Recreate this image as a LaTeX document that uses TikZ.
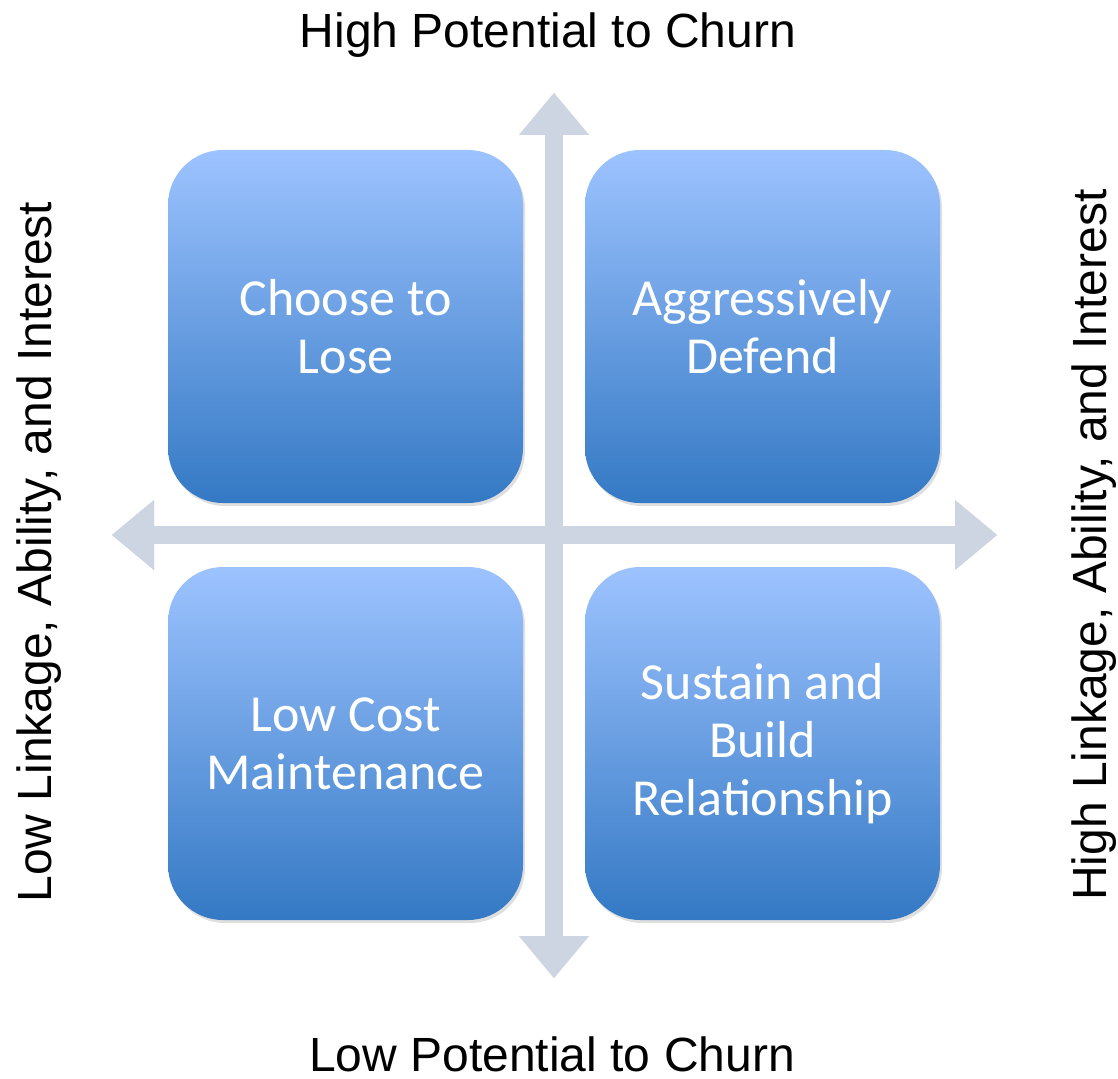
\documentclass[tikz,border=0pt]{standalone}
\usepackage{fontspec}
\setmainfont{Liberation Sans}
\newfontfamily\quadfont{Carlito}
\usetikzlibrary{arrows.meta,shadows}

\definecolor{quadtop}{RGB}{157,195,255}
\definecolor{quadbot}{RGB}{52,121,196}
\definecolor{axisgray}{RGB}{205,213,227}

\begin{document}
\begin{tikzpicture}[
    x=1pt, y=-1pt,
    quad/.style={rectangle, rounded corners=55pt, minimum width=355pt, minimum height=353pt,
                 top color=quadtop, bottom color=quadbot, draw=none, align=center,
                 text=white, font=\quadfont\fontsize{52}{58}\selectfont,
                 drop shadow={shadow xshift=2pt, shadow yshift=-3pt, opacity=0.25}},
    tipbig/.tip={Triangle[width=70pt, length=42pt, line width=0pt]},
    axis/.style={line width=18pt, axisgray, tipbig-tipbig},
    axisshadow/.style={line width=18pt, black, opacity=0.15, tipbig-tipbig},
    lbl/.style={font=\fontsize{48}{58}\selectfont, anchor=base, inner sep=0pt},
  ]
  \useasboundingbox (0,0) rectangle (1118,1078);

  %% ===== AXES =====
  \coordinate (ytop) at (554,93);
  \coordinate (ybot) at (554,978);
  \coordinate (xleft) at (112,535);
  \coordinate (xright) at (997,535);

  \begin{scope}[shift={(2,3)}]
    \draw[axisshadow] (xleft) -- (xright);
    \draw[axisshadow] (ybot) -- (ytop);
  \end{scope}
  \draw[axis] (xleft) -- (xright);
  \draw[axis] (ybot) -- (ytop);

  %% ===== QUADRANTS =====
  \node[quad] (lose)   at (345.5,326.5) {Choose to\\Lose};
  \node[quad] (defend) at (762.5,326.5) {Aggressively\\Defend};
  \node[quad] (lowcost) at (345.5,743.5) {Low Cost\\Maintenance};
  \node[quad] (sustain) at (762.5,743.5) {Sustain and\\Build\\Relationship};

  %% ===== AXIS LABELS =====
  \node[lbl] (hichurn) at (548,48)   {High Potential to Churn};
  \node[lbl] (lochurn) at (552,1071) {Low Potential to Churn};
  \node[lbl, rotate=90] (lolink) at (51,552)   {Low Linkage, Ability, and Interest};
  \node[lbl, rotate=90] (hilink) at (1106,545) {High Linkage, Ability, and Interest};
\end{tikzpicture}
\end{document}
